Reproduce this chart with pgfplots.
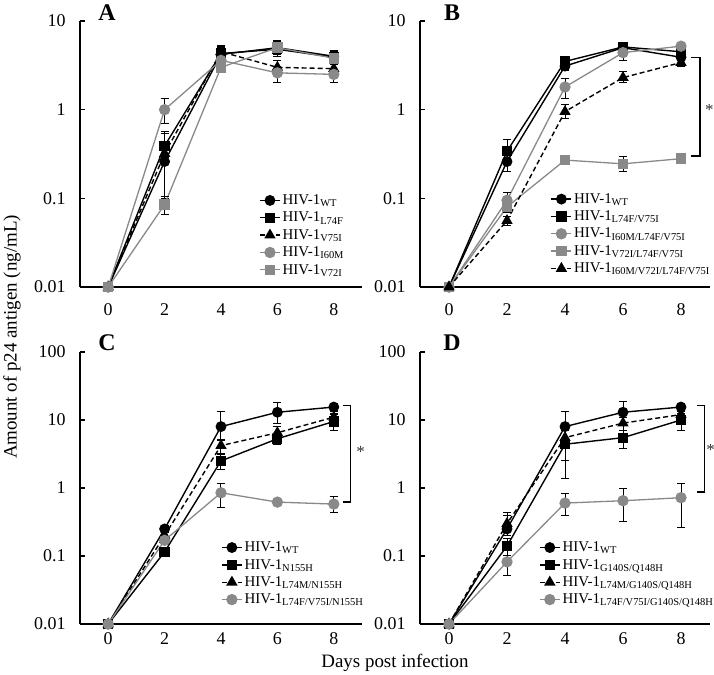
\documentclass[border=0pt]{standalone}
\usepackage{fontspec}
\setmainfont{Liberation Serif}
\usepackage{pgfplots}
\pgfplotsset{compat=1.18}
\definecolor{mgray}{RGB}{137,137,137}

\pgfplotsset{
  scale only axis, xmin=-1, xmax=9, clip=false,
  axis x line*=bottom, axis y line*=left,
  axis line style={-, line width=1.3bp, black},
  xtick={0,2,4,6,8}, xticklabels={0,2,4,6,8},
  x tick style={draw=none},
  y tick style={line width=1.1bp, black},
  tick align=inside, major tick length=5bp,
  tick label style={font=\fontsize{18}{20}\selectfont},
  xticklabel style={yshift=-13bp},
  yticklabel style={xshift=-11bp},
  legend cell align=left,
  legend style={draw=none, fill=none, font=\fontsize{15}{17}\selectfont,
    row sep=2bp, inner sep=0pt, anchor=north west},
  legend image code/.code={\draw[mark repeat=2, mark phase=2]
    plot coordinates {(0bp,0bp)(10bp,0bp)(20bp,0bp)};},
  bc/.style={black, line width=1.4bp, mark=*, mark size=4.7bp, mark options={solid}},
  bs/.style={black, line width=1.4bp, mark=square*, mark size=4.4bp, mark options={solid}},
  bt/.style={black, line width=1.4bp, dash pattern=on 5bp off 3bp, mark=triangle*, mark size=5.2bp, mark options={solid}},
  gc/.style={mgray, line width=1.3bp, mark=*, mark size=5bp, mark options={solid}},
  gs/.style={mgray, line width=1.3bp, mark=square*, mark size=4.6bp, mark options={solid}},
  every axis plot/.append style={
    error bars/y dir=both, error bars/y explicit,
    error bars/error bar style={black, line width=1bp, solid},
    error bars/error mark options={black, rotate=90, mark size=4bp, line width=1bp, solid}},
}

\begin{document}
\begin{tikzpicture}
\useasboundingbox (0,0) rectangle (714bp,675bp);

% ---------- A ----------
\begin{axis}[ymode=log, at={(80bp,388bp)}, anchor=south west,
  width=282bp, height=266bp, ymin=0.01, ymax=10,
  ytick={0.01,0.1,1,10}, yticklabels={0.01,0.1,1,10}, yminorticks=false,
  legend style={at={(0.635,0.355)}}]
\addplot[bc] table[y error plus=ep, y error minus=em] {
x y ep em
0 0.01 0 0
2 0.26 0.30 0.16
4 4.2 0.8 0.8
6 5.0 0.8 0.8
8 4.0 0.6 0.6
};
\addplot[bs] table[y error plus=ep, y error minus=em] {
x y ep em
0 0.01 0 0
2 0.39 0.15 0.10
4 4.3 0.9 0.8
6 4.8 0.8 0.8
8 3.9 0.6 0.6
};
\addplot[bt] table[y error plus=ep, y error minus=em] {
x y ep em
0 0.01 0 0
2 0.32 0.05 0.05
4 4.5 0.8 0.8
6 3.0 0.6 0.5
8 2.9 0.3 0.3
};
\addplot[gc] table[y error plus=ep, y error minus=em] {
x y ep em
0 0.01 0 0
2 1.0 0.35 0.3
4 3.6 0.5 0.5
6 2.6 0.5 0.6
8 2.5 0.3 0.5
};
\addplot[gs] table[y error plus=ep, y error minus=em] {
x y ep em
0 0.01 0 0
2 0.085 0.02 0.02
4 3.0 0.4 0.4
6 5.0 1.0 1.0
8 3.8 0.6 0.6
};
\legend{HIV-1\textsubscript{WT}, HIV-1\textsubscript{L74F}, HIV-1\textsubscript{V75I},
  HIV-1\textsubscript{I60M}, HIV-1\textsubscript{V72I}}
\end{axis}

% ---------- B ----------
\begin{axis}[ymode=log, at={(420bp,388bp)}, anchor=south west,
  width=290bp, height=266bp, ymin=0.01, ymax=10,
  ytick={0.01,0.1,1,10}, yticklabels={0.01,0.1,1,10}, yminorticks=false,
  legend style={at={(0.45,0.36)}}]
\addplot[bc] table[y error plus=ep, y error minus=em] {
x y ep em
0 0.01 0 0
2 0.26 0.20 0.06
4 3.1 0.3 0.3
6 5.0 0.4 0.4
8 3.9 0.5 0.5
};
\addplot[bs] table[y error plus=ep, y error minus=em] {
x y ep em
0 0.01 0 0
2 0.34 0.12 0.10
4 3.5 0.3 0.3
6 5.1 0.3 0.3
8 4.5 0.4 0.4
};
\addplot[gc] table[y error plus=ep, y error minus=em] {
x y ep em
0 0.01 0 0
2 0.095 0.02 0.02
4 1.8 0.45 0.45
6 4.4 0.8 0.8
8 5.2 0.4 0.4
};
\addplot[gs] table[y error plus=ep, y error minus=em] {
x y ep em
0 0.01 0 0
2 0.08 0.01 0.01
4 0.27 0.01 0.01
6 0.245 0.05 0.045
8 0.28 0.01 0.01
};
\addplot[bt] table[y error plus=ep, y error minus=em] {
x y ep em
0 0.01 0 0
2 0.056 0.006 0.006
4 0.95 0.2 0.15
6 2.3 0.4 0.3
8 3.4 0.3 0.3
};
\legend{HIV-1\textsubscript{WT}, HIV-1\textsubscript{L74F/V75I}, HIV-1\textsubscript{I60M/L74F/V75I},
  HIV-1\textsubscript{V72I/L74F/V75I}, HIV-1\textsubscript{I60M/V72I/L74F/V75I}}
\draw[line width=1.3bp] (axis cs:8.35,3.9) -- (axis cs:8.65,3.9) -- (axis cs:8.65,0.30) -- (axis cs:8.35,0.30);
\node[font=\fontsize{17}{19}\selectfont, text=black!80] at (axis cs:8.98,1.0) {*};
\end{axis}

% ---------- C ----------
\begin{axis}[ymode=log, at={(80bp,51bp)}, anchor=south west,
  width=282bp, height=272bp, ymin=0.01, ymax=100,
  ytick={0.01,0.1,1,10,100}, yticklabels={0.01,0.1,1,10,100}, yminorticks=false,
  xticklabel style={yshift=8bp},
  legend style={at={(0.5,0.31)}}]
\addplot[bc] table[y error plus=ep, y error minus=em] {
x y ep em
0 0.01 0 0
2 0.25 0.03 0.03
4 8.0 5.5 3.0
6 13 5 4
8 15.5 2 2
};
\addplot[bs] table[y error plus=ep, y error minus=em] {
x y ep em
0 0.01 0 0
2 0.115 0.01 0.01
4 2.5 0.6 0.65
6 5.3 1.0 1.0
8 9.5 2.5 2.5
};
\addplot[bt] table[y error plus=ep, y error minus=em] {
x y ep em
0 0.01 0 0
2 0.2 0.02 0.02
4 4.2 1.0 1.0
6 6.5 1.5 1.5
8 11 1.5 1.5
};
\addplot[gc] table[y error plus=ep, y error minus=em] {
x y ep em
0 0.01 0 0
2 0.17 0.02 0.02
4 0.85 0.3 0.33
6 0.62 0.03 0.03
8 0.58 0.17 0.14
};
\legend{HIV-1\textsubscript{WT}, HIV-1\textsubscript{N155H}, HIV-1\textsubscript{L74M/N155H},
  HIV-1\textsubscript{L74F/V75I/N155H}}
\draw[line width=1.3bp] (axis cs:8.32,16.5) -- (axis cs:8.6,16.5) -- (axis cs:8.6,0.62) -- (axis cs:8.32,0.62);
\node[font=\fontsize{17}{19}\selectfont, text=black!80] at (axis cs:8.95,3.4) {*};
\end{axis}

% ---------- D ----------
\begin{axis}[ymode=log, at={(420bp,51bp)}, anchor=south west,
  width=290bp, height=272bp, ymin=0.01, ymax=100,
  ytick={0.01,0.1,1,10,100}, yticklabels={0.01,0.1,1,10,100}, yminorticks=false,
  xticklabel style={yshift=8bp},
  legend style={at={(0.41,0.31)}}]
\addplot[bc] table[y error plus=ep, y error minus=em] {
x y ep em
0 0.01 0 0
2 0.25 0.19 0.05
4 8.0 5.5 3.0
6 13 5.5 4
8 15.5 2 2
};
\addplot[bs] table[y error plus=ep, y error minus=em] {
x y ep em
0 0.01 0 0
2 0.14 0.04 0.04
4 4.4 1.0 3.0
6 5.5 1.5 1.7
8 10 2.5 3
};
\addplot[bt] table[y error plus=ep, y error minus=em] {
x y ep em
0 0.01 0 0
2 0.3 0.1 0.05
4 5.5 1.5 3.0
6 9 2 2
8 12 2 2
};
\addplot[gc] table[y error plus=ep, y error minus=em] {
x y ep em
0 0.01 0 0
2 0.082 0.02 0.03
4 0.6 0.23 0.2
6 0.65 0.33 0.33
8 0.72 0.45 0.46
};
\legend{HIV-1\textsubscript{WT}, HIV-1\textsubscript{G140S/Q148H}, HIV-1\textsubscript{L74M/G140S/Q148H},
  HIV-1\textsubscript{L74F/V75I/G140S/Q148H}}
\draw[line width=1.3bp] (axis cs:8.55,16.5) -- (axis cs:8.8,16.5) -- (axis cs:8.8,0.87) -- (axis cs:8.55,0.87);
\node[font=\fontsize{17}{19}\selectfont, text=black!80] at (axis cs:9.02,3.6) {*};
\end{axis}

% panel letters and axis titles
\node[font=\fontsize{24}{26}\selectfont\bfseries] at (107bp,662bp) {A};
\node[font=\fontsize{24}{26}\selectfont\bfseries] at (452bp,662bp) {B};
\node[font=\fontsize{24}{26}\selectfont\bfseries] at (107bp,332bp) {C};
\node[font=\fontsize{24}{26}\selectfont\bfseries] at (452bp,332bp) {D};
\node[font=\fontsize{19}{21}\selectfont, rotate=90] at (12bp,338bp) {Amount of p24 antigen (ng/mL)};
\node[font=\fontsize{19}{21}\selectfont] at (395bp,12bp) {Days post infection};
\end{tikzpicture}
\end{document}
